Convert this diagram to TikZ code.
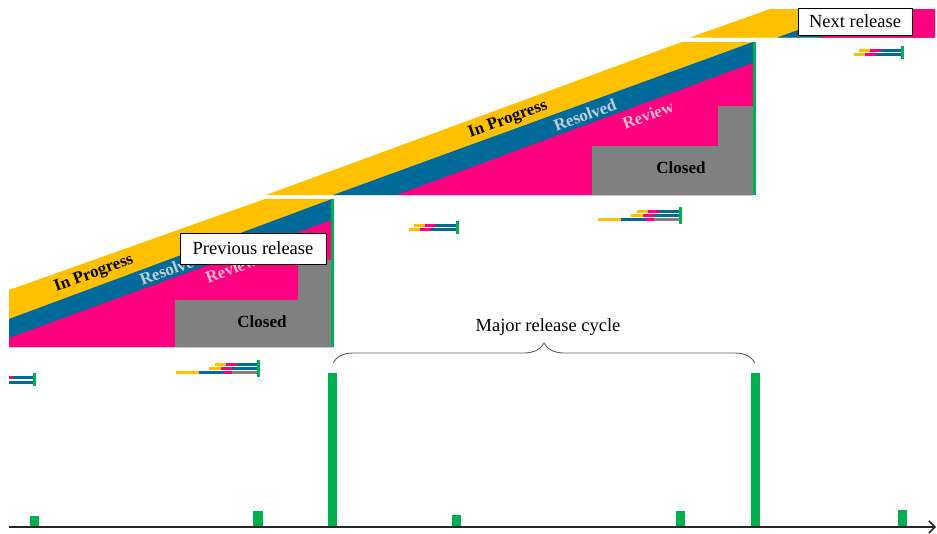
\documentclass[tikz,border=0pt]{standalone}
\usepackage{fontspec}
\setmainfont{Liberation Serif}
\usetikzlibrary{arrows.meta,decorations.pathreplacing,shadows}
\definecolor{cyel}{HTML}{FFC000}
\definecolor{cblue}{HTML}{006A9A}
\definecolor{cpink}{HTML}{FF0080}
\definecolor{cgray}{HTML}{808080}
\definecolor{cgreen}{HTML}{00B050}
\definecolor{cres}{HTML}{C3CCD4}
\definecolor{crev}{HTML}{E3BACB}
\definecolor{cbrace}{HTML}{606060}
\tikzset{
  stagelbl/.style={font=\bfseries\fontsize{17}{17}\selectfont, rotate=20.2, inner sep=0pt},
  closedlbl/.style={font=\bfseries\fontsize{17}{17}\selectfont, inner sep=0pt},
  relbox/.style={draw=black, fill=white, line width=0.8pt, inner sep=0pt,
    font=\fontsize{18.5}{20}\selectfont,
    drop shadow={shadow xshift=1.2pt, shadow yshift=-1.2pt, fill=black!70, opacity=1}},
  plainlbl/.style={inner sep=0pt, font=\fontsize{18.5}{20}\selectfont},
  greenbar/.style={fill=cgreen},
}
\newcommand{\shortcluster}{%
  \fill[cyel]  (414,224) rectangle (425,227);
  \fill[cpink] (425,224) rectangle (436,227);
  \fill[cblue] (436,224) rectangle (456,227);
  \fill[cyel]  (409,228) rectangle (420,231);
  \fill[cpink] (420,228) rectangle (431,231);
  \fill[cblue] (431,228) rectangle (456,231);
  \fill[cgreen] (456,221) rectangle (459,234);
}
\newcommand{\longcluster}{%
  \fill[cyel]  (215,363) rectangle (226,366);
  \fill[cpink] (226,363) rectangle (237,366);
  \fill[cblue] (237,363) rectangle (257,366);
  \fill[cyel]  (209,367) rectangle (221,370);
  \fill[cpink] (221,367) rectangle (232,370);
  \fill[cblue] (232,367) rectangle (257,370);
  \fill[cyel]  (176,371) rectangle (199,374);
  \fill[cblue] (199,371) rectangle (224,374);
  \fill[cpink] (224,371) rectangle (232,374);
  \fill[cgray] (232,371) rectangle (257,374);
  \fill[cgreen] (257,360) rectangle (260,377);
}
\begin{document}
\begin{tikzpicture}[x=1pt,y=-1pt]
\useasboundingbox (0,0) rectangle (937,533);

% ---------- lower block (previous release) ----------
\fill[cyel]  (9,290) -- (265,199) -- (332,199) -- (332,347) -- (9,347) -- cycle;
\fill[cblue] (9,319) -- (332,199) -- (332,347) -- (9,347) -- cycle;
\fill[cpink] (9,338) -- (332,220) -- (332,347) -- (9,347) -- cycle;
\fill[cgray] (175,347) -- (175,300) -- (298,300) -- (298,260) -- (332,260) -- (332,347) -- cycle;
\fill[cgreen] (331,199) rectangle (334,347);

% ---------- upper block ----------
\fill[cyel]  (266,195) -- (682,42) -- (753,42) -- (753,195) -- cycle;
\fill[cblue] (333,195) -- (753,42) -- (753,195) -- cycle;
\fill[cpink] (397,195) -- (753,63) -- (753,195) -- cycle;
\fill[cgray] (592,195) -- (592,146) -- (718,146) -- (718,106) -- (753,106) -- (753,195) -- cycle;
\fill[cgreen] (753,42) rectangle (756,195);

% ---------- top block (next release) ----------
\fill[cyel]  (690,37.5) -- (770,9) -- (935,9) -- (935,37.5) -- cycle;
\fill[cblue] (777,37.5) -- (857,9) -- (935,9) -- (935,37.5) -- cycle;
\fill[cpink] (820,37.5) -- (900,9) -- (935,9) -- (935,37.5) -- cycle;

% ---------- stage labels ----------
\node[stagelbl] (ip1) at (94,274) {In Progress};
\node[stagelbl, text=cres] (rs1) at (171,269) {Resolved};
\node[stagelbl, text=crev] (rv1) at (231,269) {Review};
\node[closedlbl] (cl1) at (262,322) {Closed};

\node[stagelbl] (ip2) at (508,120) {In Progress};
\node[stagelbl, text=cres] (rs2) at (585,115) {Resolved};
\node[stagelbl, text=crev] (rv2) at (648,115) {Review};
\node[closedlbl] (cl2) at (681,168) {Closed};

% ---------- release boxes ----------
\node[relbox, minimum width=146pt, minimum height=31pt] (prev) at (253,248.5) {Previous release};
\node[relbox, minimum width=114pt, minimum height=27pt] (next) at (855,21.5) {Next release};

% ---------- small bar clusters ----------
\fill[cpink] (9,376) rectangle (13,379);
\fill[cblue] (13,376) rectangle (33,379);
\fill[cblue] (9,381) rectangle (33,384);
\fill[cgreen] (33,373) rectangle (36,386);

\longcluster
\begin{scope}[shift={(422,-153)}]\longcluster\end{scope}
\shortcluster
\begin{scope}[shift={(445,-175)}]\shortcluster\end{scope}

% ---------- brace ----------
\coordinate (bl) at (333,363);
\coordinate (br) at (755,363);
\draw[cbrace, line width=0.9pt, decorate, decoration={brace, amplitude=20pt}] (bl) -- (br);
\node[plainlbl] (cycle) at (548,327) {Major release cycle};

% ---------- timeline ----------
\fill[greenbar] (30,516) rectangle (39,527);
\fill[greenbar] (253,511) rectangle (263,527);
\fill[greenbar] (328,373) rectangle (337,527);
\fill[greenbar] (452,515) rectangle (461,527);
\fill[greenbar] (676,511) rectangle (685,527);
\fill[greenbar] (751,373) rectangle (760,527);
\fill[greenbar] (898,510) rectangle (907,527);
\coordinate (ax0) at (9,527);
\coordinate (ax1) at (936,527);
\draw[line width=1.5pt, black!85, -{Straight Barb[length=6pt,width=12pt]}] (ax0) -- (ax1);
\end{tikzpicture}
\end{document}
